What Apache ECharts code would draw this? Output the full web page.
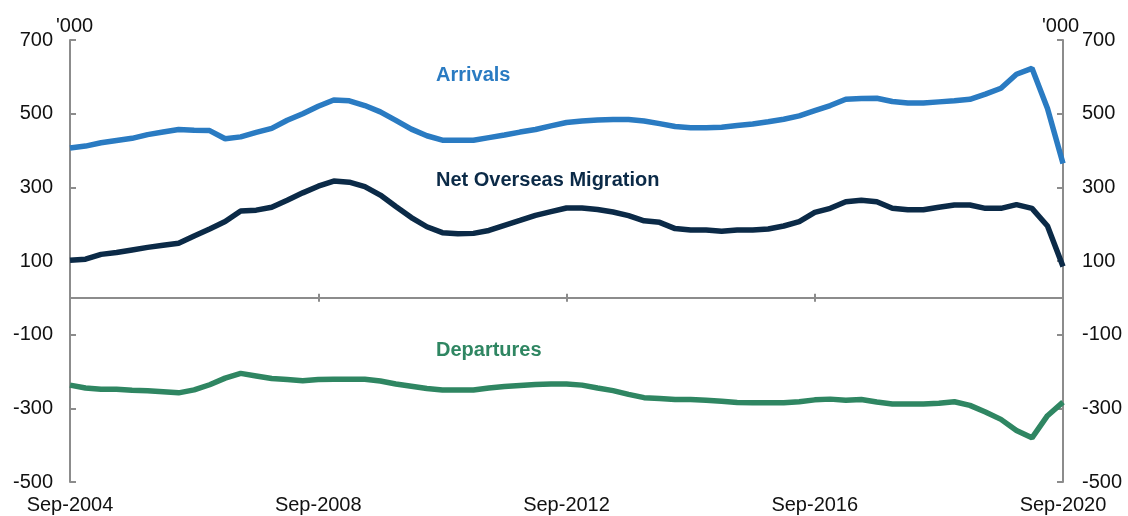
<!DOCTYPE html>
<html>
<head>
<meta charset="utf-8">
<script src="https://cdn.jsdelivr.net/npm/echarts@6/dist/echarts.min.js"></script>
<style>
html,body{margin:0;padding:0;background:#fff;}
#chart{width:1128px;height:516px;}
</style>
</head>
<body>
<div id="chart"></div>
<script>
var quarters = [
"Sep-2004","Dec-2004","Mar-2005","Jun-2005","Sep-2005","Dec-2005","Mar-2006","Jun-2006",
"Sep-2006","Dec-2006","Mar-2007","Jun-2007","Sep-2007","Dec-2007","Mar-2008","Jun-2008",
"Sep-2008","Dec-2008","Mar-2009","Jun-2009","Sep-2009","Dec-2009","Mar-2010","Jun-2010",
"Sep-2010","Dec-2010","Mar-2011","Jun-2011","Sep-2011","Dec-2011","Mar-2012","Jun-2012",
"Sep-2012","Dec-2012","Mar-2013","Jun-2013","Sep-2013","Dec-2013","Mar-2014","Jun-2014",
"Sep-2014","Dec-2014","Mar-2015","Jun-2015","Sep-2015","Dec-2015","Mar-2016","Jun-2016",
"Sep-2016","Dec-2016","Mar-2017","Jun-2017","Sep-2017","Dec-2017","Mar-2018","Jun-2018",
"Sep-2018","Dec-2018","Mar-2019","Jun-2019","Sep-2019","Dec-2019","Mar-2020","Jun-2020",
"Sep-2020"];

var arrivals = [407,412,421,427,433,443,450,457,455,454,432,437,449,460,482,500,
520,537,535,522,505,482,458,440,428,428,428,435,442,450,457,467,
476,480,483,484,484,480,473,465,462,462,463,468,472,478,485,494,
508,522,539,541,542,533,529,529,532,535,539,553,569,607,623,514,365];

var netOverseasMigration = [102,105,118,123,130,137,143,148,168,187,207,236,238,246,265,285,
303,317,314,302,279,248,218,193,177,174,175,183,197,210,224,234,
244,244,240,233,223,209,205,188,184,184,181,184,184,187,195,207,
232,243,261,265,261,243,239,239,246,252,252,243,243,253,243,195,85];

var departures = [-237,-245,-248,-248,-251,-252,-255,-258,-250,-236,-218,-205,-212,-219,-222,-225,
-222,-221,-221,-221,-226,-234,-240,-246,-250,-250,-250,-245,-241,-238,-235,-234,
-234,-237,-245,-252,-262,-271,-273,-276,-276,-278,-281,-284,-285,-285,-285,-282,
-277,-275,-278,-276,-283,-288,-288,-288,-286,-282,-292,-310,-330,-360,-380,-320,-283];

var yTicks = [-500,-300,-100,100,300,500,700];
var seriesNames = ["Arrivals","Net Overseas Migration","Departures"];
var unitLabel = "'000";

var FONT = '"Liberation Sans", Arial, sans-serif';
var AXIS = '#8c8c8c';
var C_ARR = '#2a7bc2', C_NOM = '#0b2a47', C_DEP = '#2f8662';

function yAxisCfg(pos){
  return {
    type:'value', position:pos, min:-500, max:700, interval:100,
    axisLine:{show:true, lineStyle:{color:AXIS, width:2}},
    axisTick:{show:true, inside:true, length:6, lineStyle:{color:AXIS, width:2}, customValues: yTicks},
    splitLine:{show:false},
    axisLabel:{show:true, customValues: yTicks, margin: pos==='left'?17:19,
      color:'#111', fontSize:20, fontFamily:FONT,
      formatter:function(v){ return yTicks.indexOf(v)>=0 ? String(v) : ''; }}
  };
}

var chart = echarts.init(document.getElementById('chart'), null, {renderer:'canvas'});
chart.setOption({
  animation:false,
  backgroundColor:'#fff',
  grid:{left:70, right:65, top:40, bottom:34, containLabel:false},
  xAxis:[
    {type:'category', data:quarters, boundaryGap:false, position:'bottom',
     axisLine:{show:true, onZero:true, lineStyle:{color:AXIS, width:2}},
     axisTick:{show:true, interval:15, length:4, lineStyle:{color:AXIS, width:2}},
     axisLabel:{show:false}, splitLine:{show:false}},
    {type:'category', data:quarters, boundaryGap:false, position:'top',
     axisLine:{show:false, onZero:true},
     axisTick:{show:true, interval:15, length:4, lineStyle:{color:AXIS, width:2}},
     axisLabel:{show:false}, splitLine:{show:false}},
    {type:'category', data:quarters, boundaryGap:false, position:'bottom',
     axisLine:{show:false, onZero:false}, axisTick:{show:false},
     axisLabel:{show:true, interval:15, margin:13, color:'#111', fontSize:20, fontFamily:FONT},
     splitLine:{show:false}}
  ],
  yAxis:[yAxisCfg('left'), yAxisCfg('right')],
  series:[
    {name:seriesNames[0], type:'line', data:arrivals, xAxisIndex:0, yAxisIndex:0, symbol:'none',
     lineStyle:{color:C_ARR, width:5.5}, itemStyle:{color:C_ARR}},
    {name:seriesNames[1], type:'line', data:netOverseasMigration, xAxisIndex:0, yAxisIndex:0, symbol:'none',
     lineStyle:{color:C_NOM, width:5.5}, itemStyle:{color:C_NOM}},
    {name:seriesNames[2], type:'line', data:departures, xAxisIndex:0, yAxisIndex:0, symbol:'none',
     lineStyle:{color:C_DEP, width:5.5}, itemStyle:{color:C_DEP}}
  ],
  graphic:[
    {type:'text', left:56, top:16, style:{text:unitLabel, fill:'#111', font:'20px '+FONT}},
    {type:'text', left:1042, top:16, style:{text:unitLabel, fill:'#111', font:'20px '+FONT}},
    {type:'text', left:436, top:65, style:{text:seriesNames[0], fill:C_ARR, font:'bold 20px '+FONT}},
    {type:'text', left:436, top:170, style:{text:seriesNames[1], fill:C_NOM, font:'bold 20px '+FONT}},
    {type:'text', left:436, top:340, style:{text:seriesNames[2], fill:C_DEP, font:'bold 20px '+FONT}}
  ]
});
</script>
</body>
</html>
